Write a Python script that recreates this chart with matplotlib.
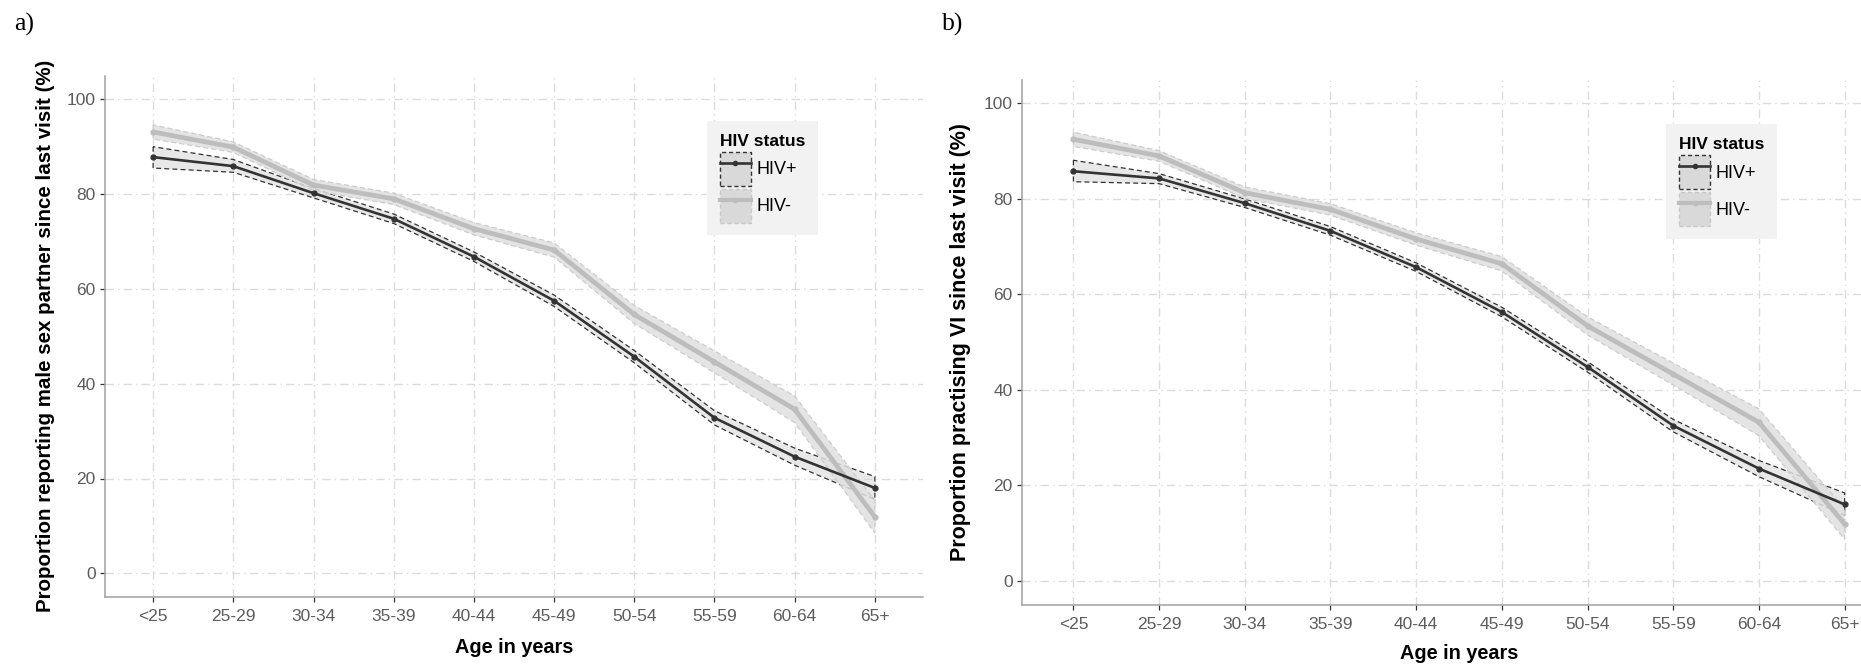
import matplotlib
matplotlib.use("Agg")
import matplotlib.pyplot as plt
from matplotlib.patches import Patch
from matplotlib.lines import Line2D
from matplotlib.legend_handler import HandlerTuple

# ---- data -------------------------------------------------------------
age_groups = ["<25", "25-29", "30-34", "35-39", "40-44",
              "45-49", "50-54", "55-59", "60-64", "65+"]

# a) proportion reporting a male sex partner since last visit (%)
msp_pos = [87.8, 85.9, 80.2, 74.8, 66.8, 57.5, 45.7, 32.8, 24.6, 18.0]
msp_pos_lo = [85.5, 84.6, 79.2, 73.8, 65.8, 56.3, 44.4, 31.3, 22.8, 15.6]
msp_pos_hi = [90.0, 87.3, 81.2, 75.8, 67.8, 58.7, 47.0, 34.3, 26.4, 20.4]
msp_neg = [93.1, 89.9, 81.9, 79.0, 72.7, 68.2, 54.6, 44.6, 34.6, 11.9]
msp_neg_lo = [91.6, 88.8, 80.7, 77.8, 71.4, 66.7, 52.7, 42.3, 31.8, 8.5]
msp_neg_hi = [94.6, 91.0, 83.1, 80.2, 74.0, 69.7, 56.5, 46.9, 37.4, 15.3]

# b) proportion practising VI since last visit (%)
vi_pos = [85.8, 84.3, 79.1, 73.3, 65.7, 56.3, 44.8, 32.5, 23.5, 16.0]
vi_pos_lo = [83.6, 83.2, 78.2, 72.4, 64.8, 55.3, 43.7, 31.2, 21.8, 13.7]
vi_pos_hi = [88.1, 85.3, 80.0, 74.2, 66.6, 57.3, 45.9, 33.8, 25.2, 18.4]
vi_neg = [92.5, 89.0, 81.3, 77.8, 71.6, 66.4, 53.4, 43.3, 33.2, 11.9]
vi_neg_lo = [91.0, 87.9, 80.1, 76.6, 70.3, 64.9, 51.5, 41.0, 30.4, 8.7]
vi_neg_hi = [94.0, 90.1, 82.5, 79.0, 72.9, 67.9, 55.3, 45.6, 36.0, 15.1]

y_ticks = [0, 20, 40, 60, 80, 100]
status_labels = ["HIV+", "HIV-"]

# ---- style ------------------------------------------------------------
SANS = ["Liberation Sans", "DejaVu Sans"]
SERIF = ["Liberation Serif", "DejaVu Serif"]
DARK = "#333333"
LIGHT = "#bdbdbd"
TICK_TXT = "#5c5c5c"
GRID = "#dcdcdc"
AXLINE = "#a0a0a0"

W, H = 1861, 666
fig = plt.figure(figsize=(W / 100, H / 100), dpi=100)
fig.patch.set_facecolor("white")


def px_axes(left, top, right, bottom):
    return fig.add_axes([left / W, 1 - bottom / H, (right - left) / W, (bottom - top) / H])


def draw_panel(ax, pos, pos_lo, pos_hi, neg, neg_lo, neg_hi, ylabel, ylabel_size, legend_anchor):
    x = list(range(1, len(age_groups) + 1))
    ax.set_xlim(0.4, len(age_groups) + 0.6)
    ax.set_ylim(-5, 105)

    # grid
    ax.set_axisbelow(True)
    ax.grid(True, color=GRID, linewidth=1.0, linestyle=(0, (6, 3, 1, 3)))

    # confidence ribbons
    ax.fill_between(x, pos_lo, pos_hi, facecolor=(0.84, 0.84, 0.84, 0.55),
                    edgecolor=DARK, linestyle=(0, (4, 2.5)), linewidth=0.9, zorder=2)
    ax.fill_between(x, neg_lo, neg_hi, facecolor=(0.88, 0.88, 0.88, 0.85),
                    edgecolor="#cdcdcd", linestyle=(0, (4, 2.5)), linewidth=0.9, zorder=2.5)

    # estimates
    ax.plot(x, neg, color=LIGHT, linewidth=3.4, marker="o", markersize=3.5,
            solid_capstyle="butt", zorder=3)
    ax.plot(x, pos, color=DARK, linewidth=1.9, marker="o", markersize=3.5,
            solid_capstyle="butt", zorder=4)

    ax.set_xticks(x)
    ax.set_xticklabels(age_groups)
    ax.set_yticks(y_ticks)
    for lab in ax.get_xticklabels() + ax.get_yticklabels():
        lab.set_family(SANS)
        lab.set_fontsize(12.5)
        lab.set_color(TICK_TXT)
    ax.tick_params(axis="both", length=3.6, width=0.9, color=DARK)
    ax.tick_params(axis="x", pad=5)
    ax.tick_params(axis="y", pad=3)

    for side in ("top", "right"):
        ax.spines[side].set_visible(False)
    for side in ("left", "bottom"):
        ax.spines[side].set_color(AXLINE)
        ax.spines[side].set_linewidth(1.1)

    ax.set_ylabel(ylabel, family=SANS, fontsize=ylabel_size, fontweight="bold", color="black")
    ax.set_xlabel("Age in years", family=SANS, fontsize=14.3, fontweight="bold",
                  color="black", va="baseline")

    # legend: ribbon swatch with the line drawn across it
    pos_key = (Patch(facecolor="#d9d9d9", edgecolor=DARK, linestyle=(0, (3, 2)), linewidth=1.0),
               Line2D([], [], color=DARK, linewidth=1.9, marker="o", markersize=3))
    neg_key = (Patch(facecolor="#d9d9d9", edgecolor="#c8c8c8", linestyle=(0, (3, 2)), linewidth=1.0),
               Line2D([], [], color=LIGHT, linewidth=3.0, marker="o", markersize=3))
    leg = ax.legend([pos_key, neg_key], status_labels, title="HIV status",
                    handler_map={tuple: HandlerTuple(ndivide=1, pad=0)},
                    loc="upper left", bbox_to_anchor=legend_anchor,
                    prop={"family": SANS, "size": 13},
                    title_fontproperties={"family": SANS, "size": 12.5, "weight": "bold"},
                    handlelength=1.75, handleheight=2.5, handletextpad=0.3,
                    labelspacing=0.18, borderpad=0.7, borderaxespad=0,
                    frameon=True, fancybox=False, alignment="left")
    frame = leg.get_frame()
    frame.set_facecolor("#f2f2f2")
    frame.set_edgecolor("none")
    frame.set_alpha(1)
    leg.set_zorder(10)
    return ax


ax_a = px_axes(105, 75.6, 923, 597)
draw_panel(ax_a, msp_pos, msp_pos_lo, msp_pos_hi, msp_neg, msp_neg_lo, msp_neg_hi,
           "Proportion reporting male sex partner since last visit (%)", 14.8, (0.736, 0.913))
ax_a.yaxis.set_label_coords(-0.061, 0.5)
ax_a.xaxis.set_label_coords(0.5, -0.107)

ax_b = px_axes(1022, 79.6, 1896, 604.6)
draw_panel(ax_b, vi_pos, vi_pos_lo, vi_pos_hi, vi_neg, vi_neg_lo, vi_neg_hi,
           "Proportion practising VI since last visit (%)", 15.5, (0.737, 0.915))
ax_b.yaxis.set_label_coords(-0.058, 0.5)
ax_b.xaxis.set_label_coords(0.5, -0.104)

fig.text(14 / W, 1 - 24 / H, "a)", family=SERIF, fontsize=18.5, ha="left", va="center")
fig.text(942 / W, 1 - 24 / H, "b)", family=SERIF, fontsize=18.5, ha="left", va="center")

fig.savefig("out.png", dpi=100, facecolor="white")
